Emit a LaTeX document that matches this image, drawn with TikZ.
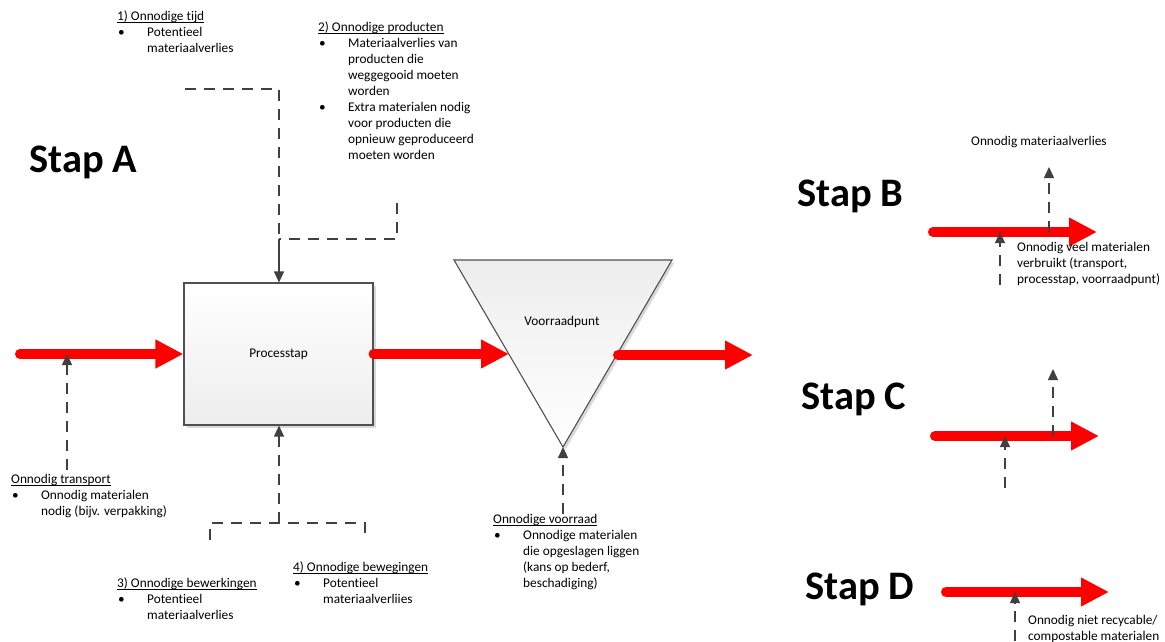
\documentclass[tikz,border=0pt]{standalone}
\usepackage{fontspec}
\setmainfont{Carlito}[Ligatures=NoCommon]
\usetikzlibrary{arrows.meta,shadows}
\definecolor{flowred}{HTML}{FF0000}
\definecolor{linegray}{HTML}{404040}
\definecolor{edgegray}{HTML}{505050}
% bullet column, continuation indent and Word-style underline
\newcommand{\blt}{\makebox[30pt][l]{\hspace{1pt}\textbullet}}
\newcommand{\cont}{\hspace{30pt}}
\newcommand{\ulx}[1]{\setbox0\hbox{#1}\rlap{\rule[-2.2pt]{\wd0}{0.7pt}}#1}
\begin{document}
\begin{tikzpicture}[x=1pt,y=-1pt,
  flow/.style={line width=10pt, flowred, line cap=round, -{Triangle[length=28pt,width=27pt]}},
  dashline/.style={linegray, line width=1.3pt, dash pattern=on 11pt off 8pt},
  dasharrow/.style={dashline, -{Triangle[length=11pt,width=10pt]}},
  solidarrow/.style={linegray, line width=1.3pt, -{Triangle[length=11pt,width=10pt]}},
  note/.style={inner sep=0pt, anchor=base west, font=\fontsize{13.3}{16}\selectfont},
  title/.style={inner sep=0pt, anchor=base west, font=\bfseries\fontsize{40.5}{48}\selectfont},
  shapelabel/.style={inner sep=0pt, font=\fontsize{13.3}{16}\selectfont},
  procbox/.style={draw=edgegray, line width=1.1pt, shading=axis, top color=white, bottom color=black!7,
    minimum width=189pt, minimum height=142pt, inner sep=0pt,
    drop shadow={shadow xshift=2.5pt, shadow yshift=-2.5pt, fill=black!15, opacity=1}}]
\path[use as bounding box] (0,0) rectangle (1165,641);

% ---- Stap A: process step ----
\node[title] (stapA) at (29,172) {Stap A};
\node[procbox] (proc) at (278.5,354) {\fontsize{13.3}{16}\selectfont Processtap};

% stock point (inverted triangle)
\coordinate (v1) at (454,260);
\coordinate (v2) at (672,260);
\coordinate (v3) at (563,447);
\fill[black!15] ([shift={(2.5,2.5)}]v1) -- ([shift={(2.5,2.5)}]v2) -- ([shift={(2.5,2.5)}]v3) -- cycle;
\draw[edgegray, line width=1.1pt, shading=axis, top color=black!7, bottom color=white] (v1) -- (v2) -- (v3) -- cycle;
\node[shapelabel] (stock) at (562,322) {Voorraadpunt};

% material flow
\coordinate (in) at (20,354);
\coordinate (vin) at (509,354);
\coordinate (vout) at (618,355);
\coordinate (out) at (753,355);
\draw[flow] (in) -- (proc.west);
\draw[flow] (proc.east) -- (vin);
\draw[flow] (vout) -- (out);

% waste 1 and 2 feeding the process from above
\coordinate (t1) at (185,89);
\coordinate (t2) at (279,89);
\coordinate (tj) at (279,239);
\coordinate (t3) at (397,203);
\coordinate (t4) at (397,239);
\draw[dashline] (t1) -- (t2) -- (tj);
\draw[dashline] (t3) -- (t4) -- (tj);
\draw[solidarrow] (tj) -- (tj |- proc.north);

% waste 3 and 4 feeding the process from below
\coordinate (b1) at (210,540);
\coordinate (b2) at (210,523);
\coordinate (bj) at (279,523);
\coordinate (b3) at (365,523);
\coordinate (b4) at (365,540);
\draw[dashline] (b1) -- (b2) -- (b3) -- (b4);
\draw[dasharrow] (bj) -- (bj |- proc.south);

% transport and stock waste
\coordinate (tr) at (67,470);
\coordinate (trtip) at (67,354);
\draw[dasharrow] (tr) -- (trtip);
\coordinate (vr) at (563,514);
\draw[dasharrow] (vr) -- (v3);

% ---- notes around Stap A ----
\node[note] (n1) at (117,20) {\begin{tabular}[t]{@{}l@{}}\ulx{1) Onnodige tijd}\\ \blt Potentieel\\ \cont materiaalverlies\end{tabular}};
\node[note] (n2) at (318,31) {\begin{tabular}[t]{@{}l@{}}\ulx{2) Onnodige producten}\\ \blt Materiaalverlies van\\ \cont producten die\\ \cont weggegooid moeten\\ \cont worden\\ \blt Extra materialen nodig\\ \cont voor producten die\\ \cont opnieuw geproduceerd\\ \cont moeten worden\end{tabular}};
\node[note] (ntr) at (11,483) {\begin{tabular}[t]{@{}l@{}}\ulx{Onnodig transport}\\ \blt Onnodig materialen\\ \cont nodig (bijv. verpakking)\end{tabular}};
\node[note] (n3) at (117,587) {\begin{tabular}[t]{@{}l@{}}\ulx{3) Onnodige bewerkingen}\\ \blt Potentieel\\ \cont materiaalverlies\end{tabular}};
\node[note] (n4) at (293,571) {\begin{tabular}[t]{@{}l@{}}\ulx{4) Onnodige bewegingen}\\ \blt Potentieel\\ \cont materiaalverliies\end{tabular}};
\node[note] (nvr) at (493,523) {\begin{tabular}[t]{@{}l@{}}\ulx{Onnodige voorraad}\\ \blt Onnodige materialen\\ \cont die opgeslagen liggen\\ \cont (kans op bederf,\\ \cont beschadiging)\end{tabular}};

% ---- Stap B ----
\node[title] (stapB) at (797,206) {Stap B};
\coordinate (bs) at (933,232);
\coordinate (be) at (1097,232);
\draw[flow] (bs) -- (be);
\coordinate (bu0) at (1049,232);
\coordinate (bu1) at (1049,167);
\draw[dasharrow] (bu0) -- (bu1);
\coordinate (bl0) at (1000,285);
\coordinate (bl1) at (1000,232);
\draw[dasharrow] (bl0) -- (bl1);
\node[note] (nb1) at (971,145) {Onnodig materiaalverlies};
\node[note] (nb2) at (1017,251) {\begin{tabular}[t]{@{}l@{}}Onnodig veel materialen\\ verbruikt (transport,\\ processtap, voorraadpunt)\end{tabular}};

% ---- Stap C ----
\node[title] (stapC) at (801,409) {Stap C};
\coordinate (cs) at (935,436);
\coordinate (ce) at (1099,436);
\draw[flow] (cs) -- (ce);
\coordinate (cu0) at (1053,436);
\coordinate (cu1) at (1053,369);
\draw[dasharrow] (cu0) -- (cu1);
\coordinate (cl0) at (1005,488);
\coordinate (cl1) at (1005,436);
\draw[dasharrow] (cl0) -- (cl1);

% ---- Stap D ----
\node[title] (stapD) at (805,599) {Stap D};
\coordinate (ds) at (946,592);
\coordinate (de) at (1109,592);
\draw[flow] (ds) -- (de);
\coordinate (dl0) at (1015,641);
\coordinate (dl1) at (1015,592);
\draw[dasharrow] (dl0) -- (dl1);
\node[note] (nd) at (1028,624) {\begin{tabular}[t]{@{}l@{}}Onnodig niet recycable/\\ compostable materialen\end{tabular}};
\end{tikzpicture}
\end{document}
